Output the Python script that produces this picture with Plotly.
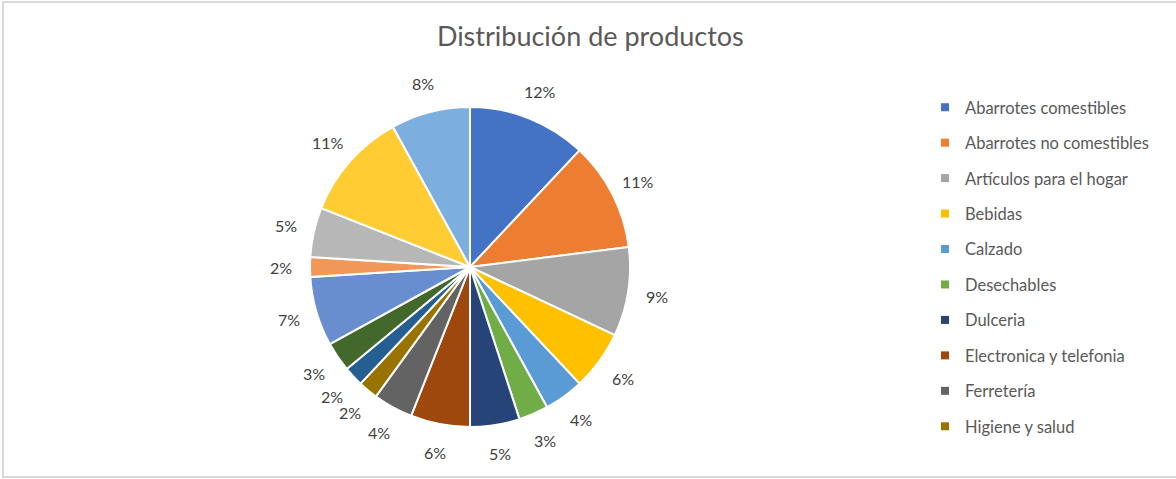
import math
import plotly.graph_objects as go

# Product categories and their share of the assortment (%)
categorias = [
    "Abarrotes comestibles", "Abarrotes no comestibles", "Artículos para el hogar",
    "Bebidas", "Calzado", "Desechables", "Dulceria", "Electronica y telefonia",
    "Ferretería", "Higiene y salud", "Jardinería", "Juguetería", "Limpieza",
    "Mascotas", "Papelería", "Perfumería", "Ropa y accesorios",
]
porcentajes = [12, 11, 9, 6, 4, 3, 5, 6, 4, 2, 2, 3, 7, 2, 5, 11, 8]
colores = [
    "#4472C4", "#ED7D31", "#A5A5A5", "#FFC000", "#5B9BD5", "#70AD47",
    "#264478", "#9E480E", "#636363", "#997300", "#255E91", "#43682B",
    "#698ED0", "#F1975A", "#B7B7B7", "#FFCD33", "#7CAFDD",
]
# Only the first categories fit in the legend box
n_leyenda = 10

W, H = 1176, 479
FONT = "Lato, Calibri, sans-serif"
GRIS_TEXTO = "#595959"

# Pie placement in pixels: centre, radius and label distance
cx, cy, r = 470, 267, 160
r_etiqueta = 189

fig = go.Figure()
fig.add_trace(go.Pie(
    labels=categorias,
    values=porcentajes,
    sort=False,
    direction="clockwise",
    rotation=0,
    marker=dict(colors=colores, line=dict(color="white", width=2)),
    textinfo="none",
    showlegend=False,
    hoverinfo="label+percent",
    domain=dict(x=[(cx - r) / W, (cx + r) / W],
                y=[1 - (cy + r) / H, 1 - (cy - r) / H]),
))

# Percentage labels just outside each slice, at its mid-angle
total = sum(porcentajes)
acumulado = 0
anotaciones = []
for v in porcentajes:
    medio = (acumulado + v / 2) / total * 2 * math.pi
    acumulado += v
    px = cx + r_etiqueta * math.sin(medio)
    py = cy - r_etiqueta * math.cos(medio)
    anotaciones.append(dict(
        x=px / W, y=1 - py / H, xref="paper", yref="paper",
        text=f"{round(v / total * 100)}%", showarrow=False,
        xanchor="center", yanchor="middle",
        font=dict(family=FONT, size=16, color="#404040"),
    ))

# Legend entries
for nombre, color in zip(categorias[:n_leyenda], colores[:n_leyenda]):
    fig.add_trace(go.Scatter(
        x=[None], y=[None], mode="markers", name=nombre,
        legendgroup=nombre,
        marker=dict(symbol="square", size=8, color=color),
    ))

fig.update_layout(
    width=W, height=H,
    margin=dict(l=0, r=0, t=0, b=0),
    paper_bgcolor="white", plot_bgcolor="white",
    title=dict(text="Distribución de productos", x=0.502, xanchor="center",
               y=1 - 37 / H, yanchor="middle",
               font=dict(family=FONT, size=27, color=GRIS_TEXTO)),
    xaxis=dict(visible=False), yaxis=dict(visible=False),
    legend=dict(x=925 / W, xanchor="left", y=1 - 90 / H, yanchor="top",
                font=dict(family=FONT, size=16.5, color=GRIS_TEXTO),
                itemwidth=30, tracegroupgap=11, bgcolor="rgba(0,0,0,0)"),
    annotations=anotaciones,
    shapes=[dict(type="rect", xref="paper", yref="paper",
                 x0=3 / W, x1=1.02, y0=1 - 477 / H, y1=1 - 2 / H,
                 line=dict(color="#D9D9D9", width=2), layer="below")],
)

fig.write_html("out.html")
